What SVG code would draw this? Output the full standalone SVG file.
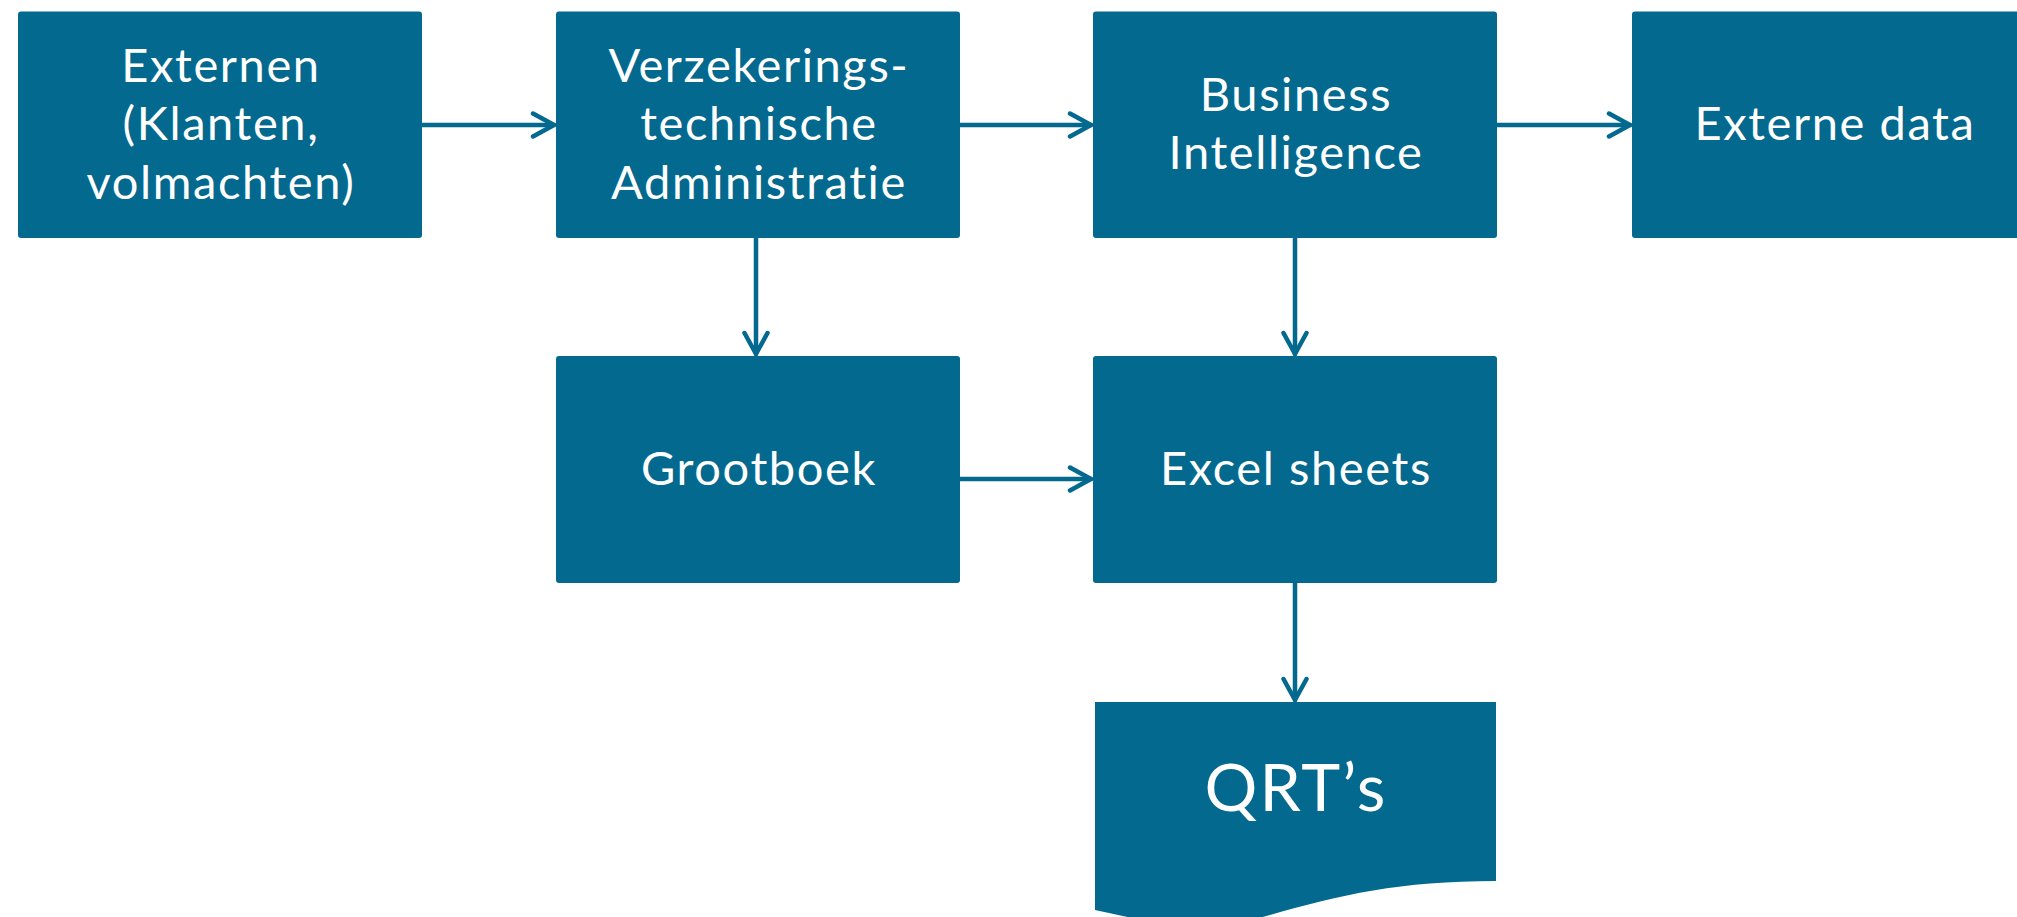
<svg xmlns="http://www.w3.org/2000/svg" width="2017" height="917" viewBox="0 0 2017 917">
<style>
.box{fill:#03698E;}
.lbl{fill:#ffffff;font-family:Lato,"Open Sans","Liberation Sans",sans-serif;font-size:47px;letter-spacing:1.6px;text-anchor:middle;font-variant-ligatures:none;}
.big{font-size:66px;letter-spacing:2px;}
.con{stroke:#03698E;stroke-width:4.5;fill:none;stroke-linecap:round;stroke-linejoin:round;}
</style>
<defs>
<marker id="arr" viewBox="-24 -14 28 28" markerWidth="28" markerHeight="28" refX="0" refY="0" orient="auto" markerUnits="userSpaceOnUse">
<path d="M-21,-11.5 L0,0 L-21,11.5" fill="none" stroke="#03698E" stroke-width="4.5" stroke-linecap="round" stroke-linejoin="round"/>
</marker>
</defs>
<rect width="2017" height="917" fill="#ffffff"/>
<g id="connectors">
<path class="con" d="M422,125 H554" marker-end="url(#arr)"/>
<path class="con" d="M960,125 H1091" marker-end="url(#arr)"/>
<path class="con" d="M1497,125 H1630" marker-end="url(#arr)"/>
<path class="con" d="M756,238 V354" marker-end="url(#arr)"/>
<path class="con" d="M1295,238 V354" marker-end="url(#arr)"/>
<path class="con" d="M960,479 H1091" marker-end="url(#arr)"/>
<path class="con" d="M1295,583 V700" marker-end="url(#arr)"/>
</g>
<g id="externen">
<rect class="box" x="18" y="11.5" width="404" height="226.5" rx="3"/>
<text class="lbl" x="221" y="81.5">Externen</text>
<text class="lbl" x="221" y="140">(Klanten,</text>
<text class="lbl" x="221" y="198.5">volmachten)</text>
</g>
<g id="vta">
<rect class="box" x="556" y="11.5" width="404" height="226.5" rx="3"/>
<text class="lbl" x="759" y="81.5">Verzekerings-</text>
<text class="lbl" x="759" y="140">technische</text>
<text class="lbl" x="759" y="198.5">Administratie</text>
</g>
<g id="bi">
<rect class="box" x="1093" y="11.5" width="404" height="226.5" rx="3"/>
<text class="lbl" x="1296" y="111">Business</text>
<text class="lbl" x="1296" y="168.5">Intelligence</text>
</g>
<g id="externe-data">
<rect class="box" x="1632" y="11.5" width="420" height="226.5" rx="3"/>
<text class="lbl" x="1835" y="140">Externe data</text>
</g>
<g id="grootboek">
<rect class="box" x="556" y="356" width="404" height="227" rx="3"/>
<text class="lbl" x="759" y="484.5">Grootboek</text>
</g>
<g id="excel">
<rect class="box" x="1093" y="356" width="404" height="227" rx="3"/>
<text class="lbl" x="1296" y="484.5">Excel sheets</text>
</g>
<g id="qrt">
<path class="box" d="M1095,702 H1496 V881 C1400,881 1340,895 1270,915 C1200,935 1150,922 1095,910 Z"/>
<text class="lbl big" x="1296" y="811">QRT’s</text>
</g>
</svg>
